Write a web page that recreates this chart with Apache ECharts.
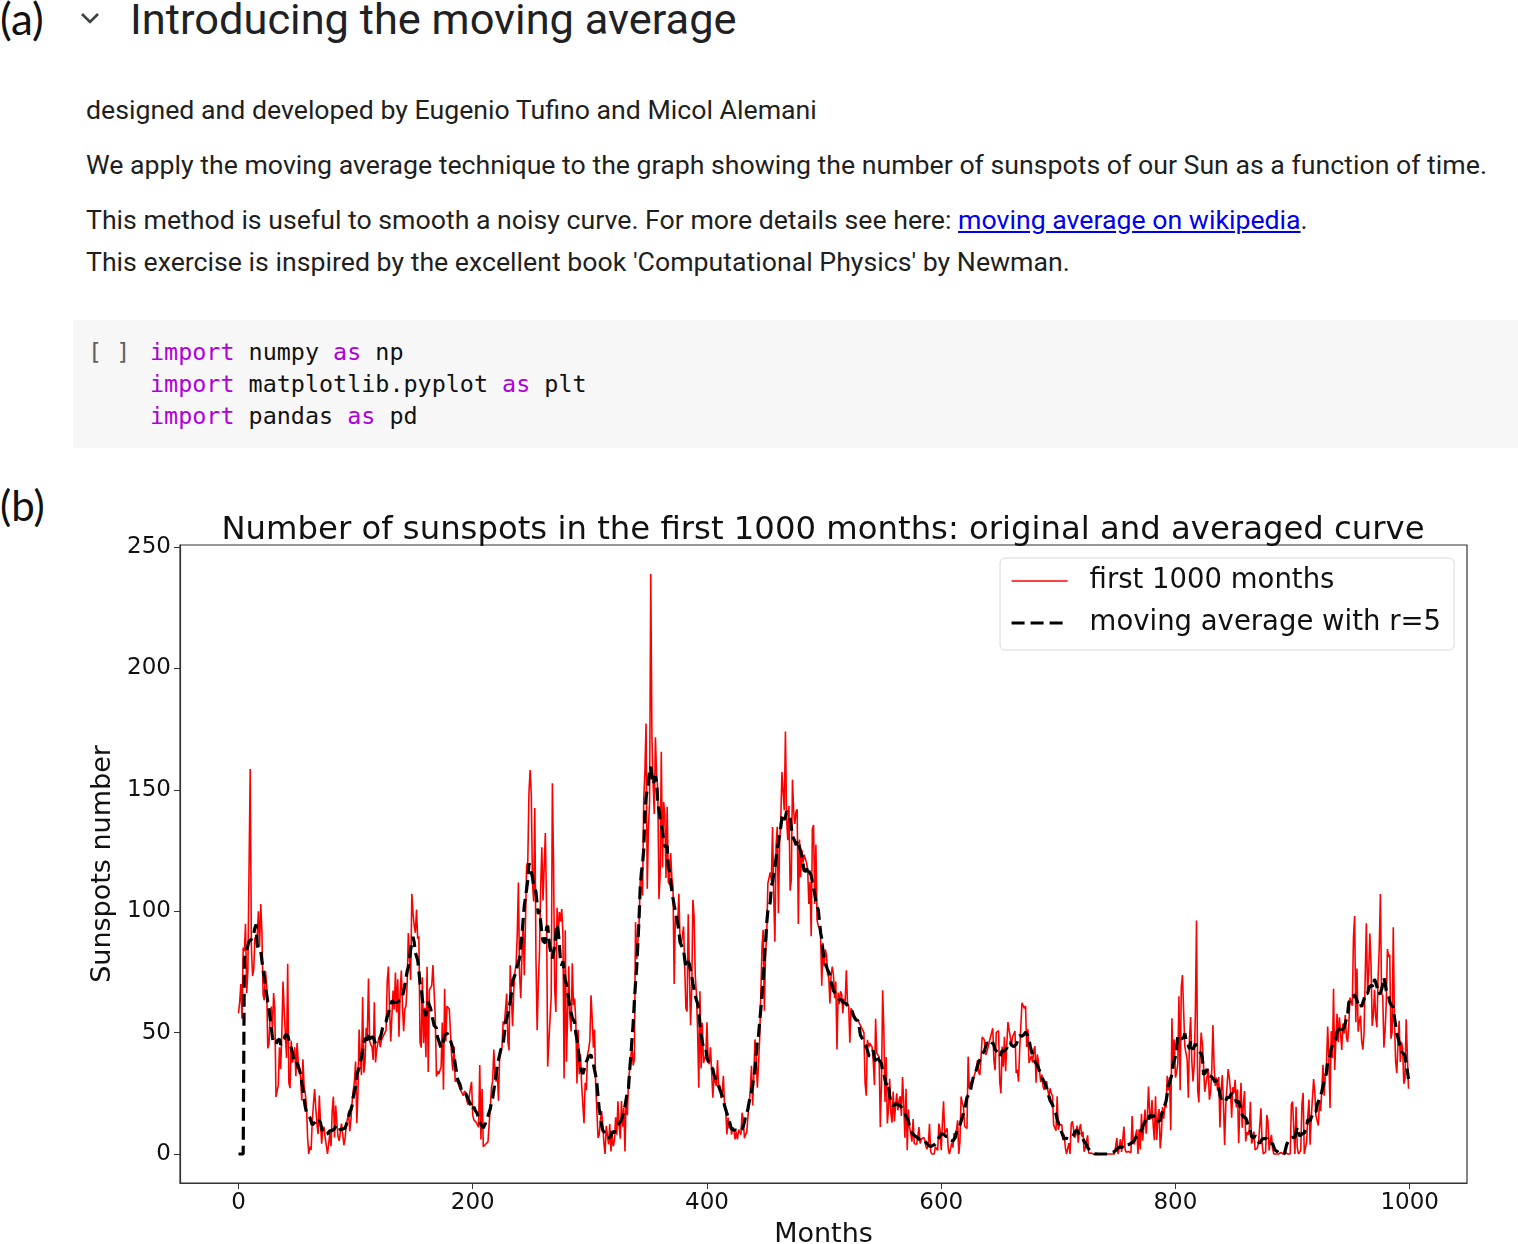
<!DOCTYPE html>
<html>
<head>
<meta charset="utf-8">
<script src="https://cdn.jsdelivr.net/npm/echarts@6/dist/echarts.min.js"></script>
<style>
  body { margin: 0; width: 1518px; height: 1244px; background: #fff; position: relative; overflow: hidden; font-family: Roboto, sans-serif; color: #1f1f1f; }
  .t { position: absolute; white-space: nowrap; }
  .lbl { font-family: Lato, sans-serif; line-height: 44px; color: #111; }
  .md { font-size: 26.7px; line-height: 34px; left: 86px; }
  .code { position: absolute; left: 73px; top: 320px; width: 1445px; height: 128px; background: #f7f7f7; }
  .cl { font-family: "DejaVu Sans Mono", monospace; font-size: 23.4px; line-height: 32px; color: #111; }
  .kw { color: #af00db; }
  a { color: #0000ee; text-decoration: underline; }
  #chart { position: absolute; left: 0; top: 480px; width: 1518px; height: 764px; }
</style>
</head>
<body>
<div class="t lbl" style="left:0px; top:-4px; font-size:44px;">(a)</div>
<svg class="t" style="left:78px; top:8px;" width="24" height="20"><polyline points="4,6 12,14 20,6" fill="none" stroke="#3c4043" stroke-width="2.6"/></svg>
<div class="t" style="left:130px; top:-5px; font-size:43.4px; line-height:50px; color:#202124;">Introducing the moving average</div>

<div class="t md" style="top:93px;">designed and developed by Eugenio Tufino and Micol Alemani</div>
<div class="t md" style="top:148px;">We apply the moving average technique to the graph showing the number of sunspots of our Sun as a function of time.</div>
<div class="t md" style="top:203px;">This method is useful to smooth a noisy curve. For more details see here: <a>moving average on wikipedia</a>.</div>
<div class="t md" style="top:245px;">This exercise is inspired by the excellent book 'Computational Physics' by Newman.</div>

<div class="code"></div>
<div class="t cl" style="left:88px; top:336px; color:#616161;">[ ]</div>
<div class="t cl" style="left:150px; top:336px;"><span class="kw">import</span> numpy <span class="kw">as</span> np</div>
<div class="t cl" style="left:150px; top:368px;"><span class="kw">import</span> matplotlib.pyplot <span class="kw">as</span> plt</div>
<div class="t cl" style="left:150px; top:400px;"><span class="kw">import</span> pandas <span class="kw">as</span> pd</div>

<div class="t lbl" style="left:0px; top:483px; font-size:42px;">(b)</div>
<div id="chart"></div>

<script>
// monthly sunspot numbers, first 1000 months (one row per year)
var sunspots = [
  58.0, 62.6, 70.0, 55.7, 85.0, 83.5, 94.8, 66.3, 75.9, 75.5, 158.6, 85.2,
  73.3, 75.9, 89.2, 88.3, 90.0, 100.0, 85.4, 103.0, 91.2, 65.7, 63.3, 75.4,
  70.0, 43.5, 45.3, 56.4, 60.7, 50.7, 66.3, 59.8, 23.5, 23.2, 28.5, 44.0,
  35.0, 50.0, 71.0, 59.3, 59.7, 39.6, 78.4, 29.3, 27.1, 46.6, 37.6, 40.0,
  44.0, 32.0, 45.7, 38.0, 36.0, 31.7, 22.0, 39.0, 28.0, 25.0, 20.0, 6.7,
  0.0, 3.0, 1.7, 13.7, 20.7, 26.7, 18.8, 12.3, 8.2, 24.1, 13.2, 4.2,
  10.2, 11.2, 6.8, 6.5, 0.0, 0.0, 8.6, 3.2, 17.8, 23.7, 6.8, 20.0,
  12.5, 7.1, 5.4, 9.4, 12.5, 12.9, 3.6, 6.4, 11.8, 14.3, 17.0, 9.4,
  14.1, 21.2, 26.2, 30.0, 38.1, 12.8, 25.0, 51.3, 39.7, 32.5, 64.7, 33.5,
  37.6, 52.0, 49.0, 72.3, 46.4, 45.0, 44.0, 38.7, 62.5, 37.7, 43.0, 43.0,
  48.3, 44.0, 46.8, 47.0, 49.0, 50.0, 51.0, 71.3, 77.2, 59.7, 46.3, 57.0,
  67.3, 59.5, 74.7, 58.3, 72.0, 48.3, 66.0, 75.6, 61.3, 50.6, 59.7, 61.0,
  70.0, 91.0, 80.7, 71.7, 107.2, 99.3, 94.1, 91.1, 100.7, 88.7, 89.7, 46.0,
  43.8, 72.8, 45.7, 60.2, 39.9, 77.1, 33.8, 67.7, 68.5, 69.3, 77.8, 77.2,
  56.5, 31.9, 34.2, 32.9, 32.7, 35.8, 54.2, 26.5, 68.1, 46.3, 60.9, 61.4,
  59.7, 59.7, 40.2, 34.4, 44.3, 30.0, 30.0, 30.0, 28.2, 28.0, 26.0, 25.7,
  24.0, 26.0, 25.0, 22.0, 20.2, 20.0, 27.0, 29.7, 16.0, 14.0, 14.0, 13.0,
  12.0, 11.0, 36.6, 6.0, 26.8, 3.0, 3.3, 4.0, 4.3, 5.0, 5.7, 19.2,
  27.4, 30.0, 43.0, 32.9, 29.8, 33.3, 21.9, 40.8, 42.7, 44.1, 54.7, 53.3,
  53.5, 66.1, 46.3, 42.7, 77.7, 77.4, 52.6, 66.8, 74.8, 77.8, 90.6, 111.8,
  73.9, 64.2, 64.3, 96.7, 73.6, 94.4, 118.6, 120.3, 148.8, 158.2, 148.1, 112.0,
  104.0, 142.5, 80.1, 51.0, 70.1, 83.3, 109.8, 126.3, 104.4, 103.6, 132.2, 102.3,
  36.0, 46.2, 46.7, 64.9, 152.7, 119.5, 67.7, 58.5, 101.4, 90.0, 99.7, 95.7,
  100.9, 90.8, 31.1, 92.2, 38.0, 57.0, 77.3, 56.2, 50.5, 78.6, 61.3, 64.0,
  54.6, 29.0, 51.2, 32.9, 41.1, 28.4, 27.7, 12.7, 29.3, 26.3, 40.9, 43.2,
  46.8, 65.4, 55.7, 43.8, 51.3, 28.5, 17.5, 6.6, 7.9, 14.0, 17.7, 12.2,
  4.4, 0.0, 11.6, 11.2, 3.9, 12.3, 1.0, 7.9, 3.2, 5.6, 15.1, 7.9,
  21.7, 11.6, 6.3, 21.8, 11.2, 19.0, 1.0, 24.2, 16.0, 30.0, 35.0, 40.0,
  45.0, 36.5, 39.0, 95.5, 80.3, 80.7, 95.0, 112.0, 116.2, 106.5, 146.0, 157.3,
  177.3, 109.3, 134.0, 145.0, 238.9, 171.6, 153.0, 140.0, 171.7, 156.3, 150.3, 105.0,
  114.7, 165.7, 118.0, 145.0, 140.0, 113.7, 143.0, 112.0, 111.0, 124.0, 114.0, 110.0,
  70.0, 98.0, 98.0, 95.0, 107.2, 88.0, 86.0, 86.0, 93.7, 77.0, 60.0, 58.7,
  98.7, 74.7, 53.0, 68.3, 104.7, 97.7, 73.5, 66.0, 51.0, 27.3, 67.0, 35.2,
  54.0, 37.5, 37.0, 41.0, 54.3, 38.0, 37.0, 44.0, 34.0, 23.2, 31.5, 30.0,
  28.0, 38.7, 26.7, 28.3, 23.0, 25.2, 32.2, 20.0, 18.0, 8.0, 15.0, 10.5,
  13.0, 8.0, 11.0, 10.0, 6.0, 9.0, 6.0, 10.0, 10.0, 8.0, 17.0, 14.0,
  6.5, 8.0, 9.0, 15.7, 20.7, 26.3, 36.3, 20.0, 32.0, 47.2, 40.2, 27.3,
  37.2, 47.6, 47.7, 85.4, 92.3, 59.0, 83.0, 89.7, 111.5, 112.3, 116.0, 112.7,
  134.7, 106.0, 87.4, 127.2, 134.8, 99.2, 128.0, 137.2, 157.3, 157.0, 141.5, 174.0,
  138.0, 129.2, 143.3, 108.5, 113.0, 154.2, 141.5, 136.0, 141.0, 142.0, 94.7, 129.5,
  114.0, 125.3, 120.0, 123.3, 123.5, 120.0, 117.0, 103.0, 112.0, 89.7, 134.0, 135.5,
  103.0, 127.5, 96.3, 94.0, 93.0, 91.0, 69.3, 87.0, 77.3, 84.3, 82.0, 74.0,
  72.7, 62.0, 74.0, 77.2, 73.7, 64.2, 71.0, 43.0, 66.5, 61.7, 67.0, 66.0,
  58.0, 64.0, 63.0, 75.7, 62.0, 61.0, 45.8, 60.0, 59.0, 59.0, 57.0, 56.0,
  56.0, 55.0, 55.5, 53.0, 52.3, 51.0, 50.0, 29.3, 24.0, 47.0, 44.0, 45.7,
  45.0, 44.0, 38.0, 28.4, 55.7, 41.5, 41.0, 40.0, 11.1, 28.5, 67.4, 51.4,
  21.4, 39.9, 12.6, 18.6, 31.0, 17.1, 12.9, 25.7, 13.5, 19.5, 25.0, 18.0,
  22.0, 23.8, 15.7, 31.7, 21.0, 6.7, 26.9, 1.5, 18.4, 11.0, 8.4, 5.1,
  14.4, 4.2, 4.0, 4.0, 7.3, 11.1, 4.3, 6.0, 5.7, 6.9, 5.8, 3.0,
  2.0, 4.0, 12.4, 1.1, 0.0, 0.0, 0.0, 3.0, 2.4, 1.5, 12.5, 9.9,
  1.6, 12.6, 21.7, 8.4, 8.2, 10.6, 2.1, 0.0, 0.0, 4.6, 2.7, 8.6,
  6.9, 9.3, 13.9, 0.0, 5.0, 23.7, 21.0, 19.5, 11.5, 12.3, 10.5, 40.1,
  27.0, 29.0, 30.0, 31.0, 32.0, 31.2, 35.0, 38.7, 33.5, 32.6, 39.8, 48.2,
  47.8, 47.0, 40.8, 42.0, 44.0, 46.0, 48.0, 50.0, 51.8, 38.5, 34.5, 50.0,
  50.0, 50.8, 29.5, 25.0, 44.3, 36.0, 48.3, 34.1, 45.3, 54.3, 51.0, 48.0,
  45.3, 48.3, 48.0, 50.6, 33.4, 34.8, 29.8, 43.1, 53.0, 62.3, 61.0, 60.0,
  61.0, 44.1, 51.4, 37.5, 39.0, 40.5, 37.6, 42.7, 44.4, 29.4, 41.0, 38.3,
  39.0, 29.6, 32.7, 27.7, 26.4, 25.6, 30.0, 26.3, 24.0, 27.0, 25.0, 24.0,
  12.0, 12.2, 9.6, 23.8, 10.0, 12.0, 12.7, 12.0, 5.7, 8.0, 2.6, 0.0,
  0.0, 4.5, 0.0, 12.3, 13.5, 13.5, 6.7, 8.0, 11.7, 4.7, 10.5, 12.3,
  7.2, 9.2, 0.9, 2.5, 2.0, 7.7, 0.3, 0.2, 0.4, 0.0, 0.0, 0.0,
  0.0, 0.0, 0.0, 0.0, 0.0, 0.0, 0.0, 0.0, 0.0, 0.0, 0.0, 0.0,
  0.0, 0.0, 0.0, 0.0, 0.0, 0.0, 6.6, 0.0, 2.4, 6.1, 0.8, 1.1,
  11.3, 1.9, 0.7, 0.0, 1.0, 1.3, 0.5, 15.6, 5.2, 3.9, 7.9, 10.1,
  0.0, 10.3, 1.9, 16.6, 5.5, 11.2, 18.3, 8.4, 15.3, 27.8, 16.7, 14.3,
  22.2, 12.0, 5.7, 23.8, 5.8, 14.9, 18.5, 2.3, 8.1, 19.3, 14.5, 20.1,
  19.2, 32.2, 26.2, 31.6, 9.8, 55.9, 35.5, 47.2, 31.5, 33.5, 37.2, 65.0,
  26.3, 68.8, 73.7, 58.8, 44.3, 43.6, 38.8, 23.2, 47.8, 56.4, 38.1, 29.9,
  36.4, 57.9, 96.2, 26.4, 21.2, 40.0, 50.0, 45.0, 36.7, 25.6, 28.9, 28.4,
  34.9, 22.4, 25.4, 34.5, 53.1, 36.4, 28.0, 31.5, 26.1, 31.7, 10.9, 25.8,
  32.5, 20.7, 3.7, 20.2, 19.6, 35.0, 31.4, 26.1, 14.9, 27.5, 25.1, 30.6,
  19.2, 26.6, 4.5, 19.4, 29.3, 10.8, 20.6, 25.9, 5.2, 9.0, 7.9, 9.7,
  21.5, 4.3, 5.7, 9.2, 1.7, 1.8, 2.5, 4.8, 4.4, 18.8, 4.4, 0.0,
  0.0, 0.9, 16.1, 13.5, 1.5, 5.6, 7.9, 2.1, 0.0, 0.4, 0.0, 0.0,
  0.0, 0.0, 0.6, 0.0, 0.0, 0.0, 0.5, 0.0, 0.0, 0.0, 0.0, 20.4,
  21.6, 10.8, 0.0, 19.4, 2.8, 0.0, 0.0, 1.4, 20.5, 25.2, 0.0, 0.8,
  5.0, 15.5, 22.4, 3.8, 15.4, 15.4, 30.9, 25.4, 15.7, 15.6, 11.7, 22.0,
  17.7, 18.2, 36.7, 24.0, 32.4, 37.1, 52.5, 39.6, 18.9, 50.6, 39.5, 68.1,
  34.6, 47.4, 57.8, 46.0, 56.3, 56.7, 42.9, 53.7, 49.6, 57.2, 48.2, 46.1,
  52.8, 64.4, 65.0, 61.1, 89.1, 98.0, 54.3, 76.4, 50.4, 54.7, 57.0, 46.6,
  43.0, 49.4, 72.3, 95.0, 67.5, 73.9, 90.8, 78.3, 52.8, 57.2, 67.6, 56.5,
  52.2, 72.1, 84.6, 107.1, 66.3, 65.1, 43.9, 50.7, 62.1, 84.4, 81.2, 82.1,
  47.5, 50.1, 93.4, 54.6, 38.1, 33.4, 45.2, 54.9, 37.9, 46.2, 43.5, 28.9,
  30.9, 55.5, 55.1, 26.9
];
// the months just after the plotted range, used by the averaging window at the end
var sunspotsAfter = [41.3, 26.7, 13.9, 8.9, 8.2];

var xTicks = [0, 200, 400, 600, 800, 1000];
var yTicks = [0, 50, 100, 150, 200, 250];
var r = 5;

// moving average with half width r (first r points left at 0)
var all = sunspots.concat(sunspotsAfter);
var averaged = [];
for (var k = 0; k < sunspots.length; k++) {
  if (k < r) { averaged.push(0); continue; }
  var s = 0;
  for (var m = -r; m <= r; m++) s += all[k + m];
  averaged.push(s / (2 * r + 1));
}

var font = "DejaVu Sans";
var dash = [13, 6];
var chart = echarts.init(document.getElementById("chart"));
var option = {
  animation: false,
  title: {
    text: "Number of sunspots in the first 1000 months: original and averaged curve",
    left: 818,
    top: 27,
    textAlign: "center",
    textStyle: { fontFamily: font, fontSize: 32.3, fontWeight: "normal", color: "#111", lineHeight: 38 },
  },
  grid: {
    left: 180,
    right: 51,
    top: 65,
    bottom: 61,
    outerBoundsMode: "none",
    show: true,
    borderColor: "#333",
    borderWidth: 1.2,
  },
  legend: {
    orient: "vertical",
    left: 1000,
    top: 78,
    data: [
      { name: "first 1000 months", lineStyle: { width: 1.5 } },
      { name: "moving average with r=5", lineStyle: { width: 3.2, type: dash } },
    ],
    itemWidth: 56,
    itemHeight: 14,
    itemGap: 10,
    padding: [7, 13, 11, 10],
    itemStyle: { opacity: 0 },
    backgroundColor: "rgba(255,255,255,0.85)",
    borderColor: "#d8d8d8",
    borderWidth: 1,
    borderRadius: 5,
    textStyle: { fontFamily: font, fontSize: 27.5, color: "#111", lineHeight: 32, padding: [0, 0, 0, 17] },
  },
  xAxis: {
    type: "value",
    min: -49.95,
    max: 1048.95,
    splitLine: { show: false },
    axisLine: { show: true, onZero: false, lineStyle: { color: "#333", width: 1.2 } },
    axisTick: { show: true, customValues: xTicks, length: 6, lineStyle: { color: "#333" } },
    axisLabel: { customValues: xTicks, formatter: function (v) { return String(v); }, fontFamily: font, fontSize: 23, color: "#111", margin: 9 },
    name: "Months",
    nameLocation: "middle",
    nameGap: 38,
    nameTextStyle: { fontFamily: font, fontSize: 27, color: "#111" },
  },
  yAxis: {
    type: "value",
    min: -11.95,
    max: 250.85,
    splitLine: { show: false },
    axisLine: { show: true, onZero: false, lineStyle: { color: "#333", width: 1.2 } },
    axisTick: { show: true, customValues: yTicks, length: 6, lineStyle: { color: "#333" } },
    axisLabel: { customValues: yTicks, formatter: function (v) { return String(v); }, fontFamily: font, fontSize: 23, color: "#111", margin: 9 },
    name: "Sunspots number",
    nameLocation: "middle",
    nameRotate: 90,
    nameGap: 52,
    nameTextStyle: { fontFamily: font, fontSize: 27, color: "#111" },
  },
  series: [
    {
      name: "first 1000 months",
      type: "line",
      data: sunspots.map(function (v, i) { return [i, v]; }),
      symbol: "none",
      showSymbol: false,
      lineStyle: { color: "#ff0000", width: 1.6 },
      itemStyle: { color: "#ff0000" },
      z: 2,
    },
    {
      name: "moving average with r=5",
      type: "line",
      data: averaged.map(function (v, i) { return [i, v]; }),
      symbol: "none",
      showSymbol: false,
      lineStyle: { color: "#000", width: 3.2, type: dash },
      itemStyle: { color: "#000" },
      z: 3,
    },
  ],
};
chart.setOption(option);
</script>
</body>
</html>
